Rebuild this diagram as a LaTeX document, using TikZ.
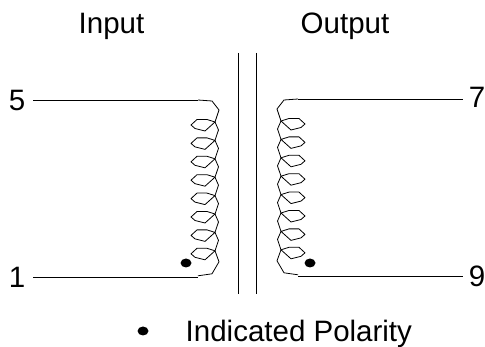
\documentclass[tikz,border=0pt]{standalone}
\usepackage{fontspec}
\setmainfont{Liberation Sans}
\usetikzlibrary{shapes.geometric}
\tikzset{
  lbl/.style={inner sep=0pt,font=\fontsize{29.5}{34}\selectfont,text=black},
  wire/.style={line width=0.8pt,line join=round,black},
  polarity/.style={ellipse,fill=black,draw=none,minimum width=11pt,minimum height=9pt,inner sep=0pt},
  pics/coil/.style={code={
    \draw[wire] (0,0) -- (14,1) -- (21,10) -- (17,22);
    \foreach \i in {0,...,7}{
      \begin{scope}[shift={(17,22+18.4*\i)}]
        \draw[wire] (0,0) -- (-8,-2.5) -- (-18,-2.5) -- (-24,3) -- (-20,6.5) -- (-10,9) -- cycle;
        \ifnum\i<7
          \draw[wire] (0,0) -- (3.5,8) -- (0,18.4);
        \else
          \draw[wire] (0,0) -- (4,11) -- (-3,#1) -- (-17,#1+2);
        \fi
      \end{scope}
    }
  }}
}
\begin{document}
\begin{tikzpicture}[x=1pt,y=-1pt]
\useasboundingbox (0,0) rectangle (485,347);
\node[lbl,anchor=base west] (inp) at (78.5,34) {Input};
\node[lbl,anchor=base west] (outp) at (300.5,33.5) {Output};
\node[lbl,anchor=base] (n5) at (17,111) {5};
\node[lbl,anchor=base] (n1) at (17,288) {1};
\node[lbl,anchor=base] (n7) at (477,107.5) {7};
\node[lbl,anchor=base] (n9) at (477,287) {9};
\node[lbl,anchor=base west] (leg) at (185.5,342) {Indicated Polarity};
\node[polarity] (dl) at (186,263) {};
\node[polarity] (dr) at (310,263) {};
\node[polarity] (dk) at (143,331) {};
\coordinate (cA) at (238,53); \coordinate (cB) at (238,294);
\coordinate (cC) at (256,53); \coordinate (cD) at (256,294);
\draw[wire] (cA) -- (cB);
\draw[wire] (cC) -- (cD);
\coordinate (lt) at (198,100); \coordinate (lb) at (198,277);
\coordinate (rt) at (298,99); \coordinate (rb) at (298,276);
\coordinate (e5) at (33,100); \coordinate (e1) at (33,277);
\coordinate (e7) at (463,99); \coordinate (e9) at (463,276);
\pic at (lt) {coil={23}};
\pic[xscale=-1] at (rt) {coil={23}};
\draw[wire] (e5) -- (lt);
\draw[wire] (e1) -- (lb);
\draw[wire] (rt) -- (e7);
\draw[wire] (rb) -- (e9);
\end{tikzpicture}
\end{document}
